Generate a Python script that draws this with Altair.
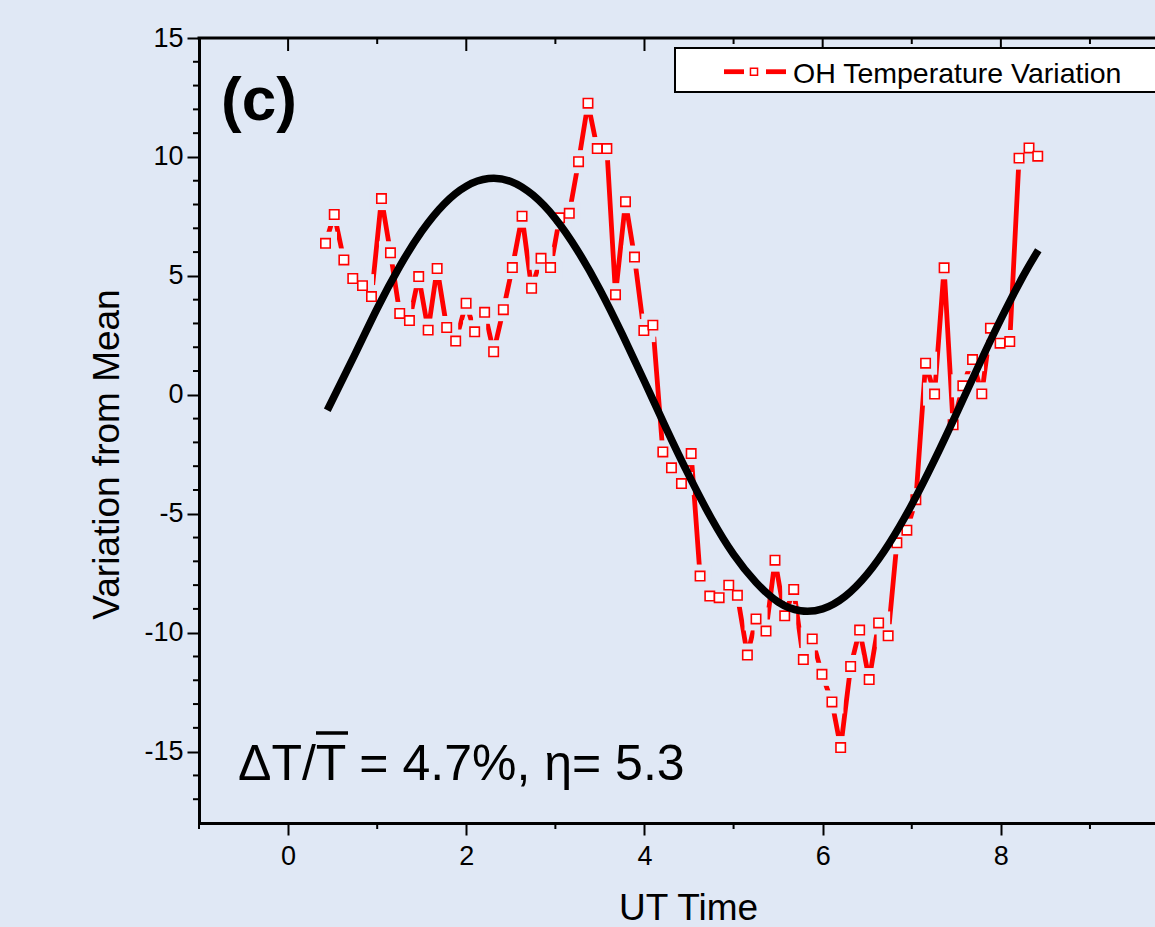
import altair as alt
import pandas as pd

# ---- data ----
time_ut = [0.420, 0.518, 0.626, 0.726, 0.835, 0.936, 1.048, 1.149, 1.253, 1.362,
           1.466, 1.572, 1.673, 1.780, 1.881, 1.998, 2.094, 2.206, 2.307, 2.416,
           2.517, 2.626, 2.733, 2.839, 2.946, 3.047, 3.156, 3.260, 3.366, 3.470,
           3.578, 3.675, 3.787, 3.888, 3.993, 4.094, 4.206, 4.303, 4.415, 4.524,
           4.624, 4.733, 4.838, 4.946, 5.043, 5.155, 5.252, 5.364, 5.465, 5.574,
           5.675, 5.783, 5.883, 5.992, 6.104, 6.202, 6.314, 6.415, 6.522, 6.628,
           6.735, 6.833, 6.945, 7.046, 7.155, 7.256, 7.363, 7.464, 7.573, 7.682,
           7.786, 7.883, 7.991, 8.100, 8.204, 8.316, 8.414]
oh_variation = [6.37, 7.58, 5.67, 4.89, 4.59, 4.13, 8.25, 5.97, 3.42, 3.12,
                4.97, 2.72, 5.31, 2.83, 2.26, 3.85, 2.65, 3.47, 1.81, 3.58,
                5.35, 7.51, 4.48, 5.74, 5.35, 7.44, 7.63, 9.80, 12.26, 10.35,
                10.35, 4.21, 8.12, 5.79, 2.70, 2.93, -2.40, -3.07, -3.73, -2.47,
                -7.62, -8.46, -8.53, -8.00, -8.43, -10.94, -9.42, -9.93, -6.95, -9.29,
                -8.18, -11.13, -10.26, -11.75, -12.91, -14.83, -11.42, -9.89, -11.97, -9.59,
                -10.13, -6.22, -5.69, -4.41, 1.33, 0.03, 5.34, -1.26, 0.38, 1.48,
                0.04, 2.80, 2.17, 2.24, 9.95, 10.38, 10.03]

fit_time = [0.44, 0.75, 1.00, 1.25, 1.50, 1.75, 2.00, 2.25, 2.50, 2.75, 3.00,
            3.25, 3.50, 3.75, 4.00, 4.25, 4.50, 4.75, 5.00, 5.25, 5.50, 5.75,
            6.00, 6.25, 6.50, 6.75, 7.00, 7.25, 7.50, 7.75, 8.00, 8.25, 8.42]
fit_variation = [-0.65, 1.70, 3.63, 5.38, 6.87, 8.02, 8.77, 9.09, 8.97, 8.39, 7.41,
                 6.06, 4.42, 2.55, 0.56, -1.46, -3.40, -5.19, -6.71, -7.88, -8.71, -9.08,
                 -9.00, -8.48, -7.54, -6.23, -4.62, -2.78, -0.80, 1.22, 3.18, 4.99, 6.08]

x_major = [0, 2, 4, 6, 8]
x_minor = [-1, 1, 3, 5, 7, 9]
y_major = [-15, -10, -5, 0, 5, 10, 15]
y_minor = [-17, -16, -14, -13, -12, -11, -9, -8, -7, -6, -4, -3, -2, -1,
           1, 2, 3, 4, 6, 7, 8, 9, 11, 12, 13, 14]

legend_label = "OH Temperature Variation"
panel_label = "(c)"
note_label = "\u0394T/T = 4.7%, \u03b7= 5.3"
x_title = "UT Time"
y_title = "Variation from Mean"

# ---- styling ----
W, H = 956, 785
BG = "#E0E8F5"
RED = "#FF0000"
FONT = "Liberation Sans"

xs = alt.Scale(domain=[-1, 9.73], nice=False, zero=False)
ys = alt.Scale(domain=[-18, 15], nice=False, zero=False)

obs = pd.DataFrame({"t": time_ut, "v": oh_variation})
fit = pd.DataFrame({"t": fit_time, "v": fit_variation})
one = pd.DataFrame({"a": [0]})

xaxis = alt.Axis(values=x_major, title=x_title, grid=False, labelExpr="datum.value + ''",
                 domainColor="black", domainWidth=3, domainCap="square",
                 tickColor="black", tickWidth=2, tickSize=12,
                 labelFont=FONT, labelFontSize=27, labelColor="black", labelPadding=8,
                 titleFont=FONT, titleFontSize=37, titleFontWeight="normal", titleColor="black",
                 titleX=489, titleY=96, titleAlign="center", titleBaseline="alphabetic")
yaxis = alt.Axis(values=y_major, title=y_title, grid=False, labelExpr="datum.value + ''",
                 domainColor="black", domainWidth=3, domainCap="square",
                 tickColor="black", tickWidth=2, tickSize=12,
                 labelFont=FONT, labelFontSize=27, labelColor="black", labelPadding=4,
                 titleFont=FONT, titleFontSize=37, titleFontWeight="normal", titleColor="black",
                 titleAngle=270, titleX=-81, titleY=416, titleAlign="center",
                 titleBaseline="alphabetic")

X = alt.X("t:Q", scale=xs, axis=xaxis)
Y = alt.Y("v:Q", scale=ys, axis=yaxis)

red_line = alt.Chart(obs).mark_line(color=RED, strokeWidth=4.8, strokeCap="butt").encode(x=X, y=Y)
halo = alt.Chart(obs).mark_point(shape="square", filled=True, fill=BG, strokeWidth=0,
                                 size=530, opacity=1).encode(x=X, y=Y)
markers = alt.Chart(obs).mark_point(shape="square", filled=True, fill="white", stroke=RED,
                                    strokeWidth=1.6, size=88, opacity=1).encode(x=X, y=Y)
fit_line = alt.Chart(fit).mark_line(color="black", strokeWidth=7.5, strokeCap="butt",
                                    interpolate="natural").encode(x=X, y=Y)

# extra ticks (minor ticks and inward top ticks)
def xticks(vals, y0, y1):
    return alt.Chart(pd.DataFrame({"t": vals})).mark_rule(color="black", strokeWidth=2).encode(
        x=X, y=alt.value(y0), y2=alt.value(y1))

top_major = xticks(x_major, 0, 13)
top_minor = xticks(x_minor, 0, 6)
bottom_minor = xticks(x_minor, H, H + 6)
left_minor = alt.Chart(pd.DataFrame({"v": y_minor})).mark_rule(color="black", strokeWidth=2).encode(
    y=Y, x=alt.value(-6), x2=alt.value(0))

top_border = alt.Chart(one).mark_rule(color="black", strokeWidth=3).encode(
    x=alt.value(-1.5), x2=alt.value(W), y=alt.value(0))

# legend
leg_box = alt.Chart(one).mark_rect(fill="white", stroke="black", strokeWidth=2).encode(
    x=alt.value(476), x2=alt.value(W + 30), y=alt.value(10), y2=alt.value(54))
leg_l1 = alt.Chart(one).mark_rule(color=RED, strokeWidth=4.8).encode(
    x=alt.value(525), x2=alt.value(545), y=alt.value(33.7))
leg_l2 = alt.Chart(one).mark_rule(color=RED, strokeWidth=4.8).encode(
    x=alt.value(567), x2=alt.value(587), y=alt.value(33.7))
leg_pt = alt.Chart(one).mark_point(shape="square", filled=True, fill="white", stroke=RED,
                                   strokeWidth=1.5, size=50, opacity=1).encode(
    x=alt.value(555), y=alt.value(33.7))
leg_txt = alt.Chart(one).mark_text(text=legend_label, align="left", baseline="alphabetic",
                                   font=FONT, fontSize=28.5, color="black").encode(
    x=alt.value(594), y=alt.value(44.7))

# annotations
panel_txt = alt.Chart(one).mark_text(text=panel_label, align="left", baseline="alphabetic",
                                     font=FONT, fontSize=62, fontWeight="bold", color="black").encode(
    x=alt.value(22), y=alt.value(82))
note_txt = alt.Chart(one).mark_text(text=note_label, align="left", baseline="alphabetic",
                                    font=FONT, fontSize=50, color="black").encode(
    x=alt.value(39), y=alt.value(742))
note_bar = alt.Chart(one).mark_rule(color="black", strokeWidth=3.5).encode(
    x=alt.value(117), x2=alt.value(149), y=alt.value(695))

chart = alt.layer(
    red_line, halo, markers, fit_line,
    top_major, top_minor, bottom_minor, left_minor, top_border,
    leg_box, leg_l1, leg_l2, leg_pt, leg_txt,
    panel_txt, note_txt, note_bar,
).properties(
    width=W, height=H,
    padding={"left": 199, "top": 38, "right": 0, "bottom": 104},
    autosize=alt.AutoSizeParams(type="none"),
).configure(background=BG).configure_view(strokeWidth=0)

chart.save("out.html", embed_options={"renderer": "svg", "actions": False})
